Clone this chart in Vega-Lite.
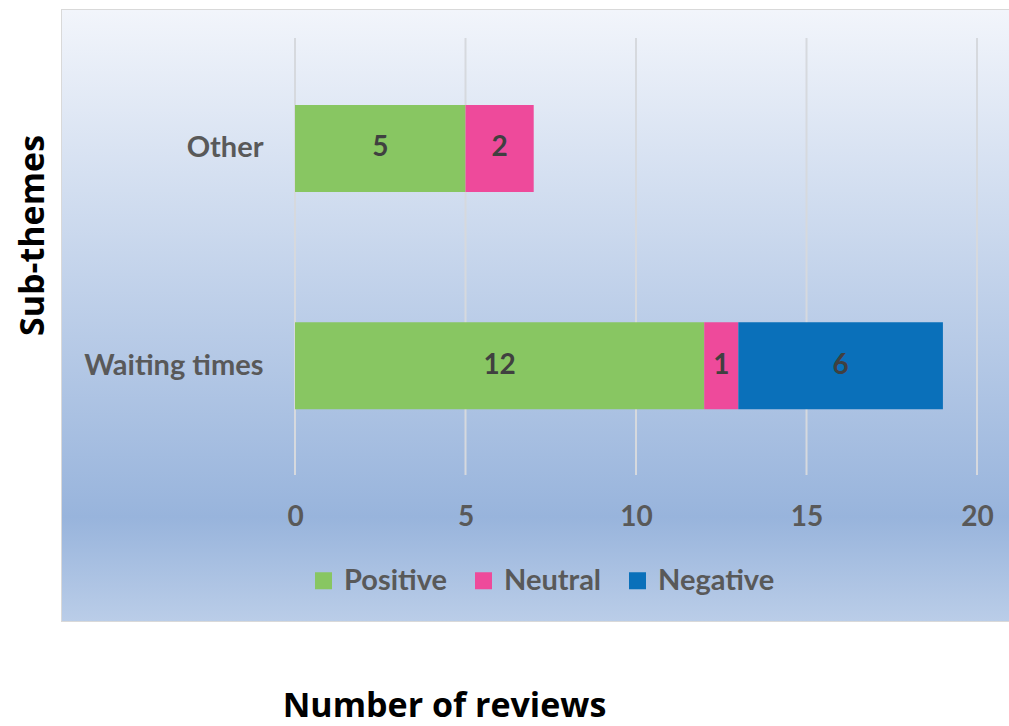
{
  "$schema": "https://vega.github.io/schema/vega-lite/v6.json",
  "width": 947,
  "height": 611,
  "autosize": "none",
  "padding": {"left": 62, "top": 10, "right": 0, "bottom": 105},
  "background": "white",
  "config": {
    "font": "Lato",
    "view": {"stroke": "#d9d9d9", "strokeWidth": 2}
  },
  "datasets": {
    "reviews": [
      {"sub": "Other", "sentiment": "Positive", "count": 5},
      {"sub": "Other", "sentiment": "Neutral", "count": 2},
      {"sub": "Waiting times", "sentiment": "Positive", "count": 12},
      {"sub": "Waiting times", "sentiment": "Neutral", "count": 1},
      {"sub": "Waiting times", "sentiment": "Negative", "count": 6}
    ],
    "gridticks": [{"v": 0}, {"v": 5}, {"v": 10}, {"v": 15}, {"v": 20}]
  },
  "layer": [
    {
      "data": {"values": [{}]},
      "mark": {
        "type": "rect",
        "fill": {
          "gradient": "linear",
          "x1": 0, "y1": 0, "x2": 0, "y2": 1,
          "stops": [
            {"offset": 0, "color": "#f2f5fb"},
            {"offset": 0.83, "color": "#98b4dc"},
            {"offset": 1, "color": "#bacde8"}
          ]
        }
      },
      "encoding": {}
    },
    {
      "data": {"name": "gridticks"},
      "mark": {"type": "rule", "color": "#d6d9de", "strokeWidth": 2, "yOffset": -110.5, "y2Offset": 109.2},
      "encoding": {
        "x": {
          "field": "v", "type": "quantitative",
          "scale": {"domain": [-6.833, 20.938], "nice": false, "zero": false},
          "axis": {
            "title": "Number of reviews", "values": [0, 5, 10, 15, 20], "grid": false, "ticks": false, "domain": false,
            "zindex": 2,
            "labelPadding": 0, "offset": -118, "labelFont": "Lato", "labelFontSize": 28, "labelFontWeight": "bold",
            "labelColor": "#595959", "labelFlush": false, "labelOverlap": false,
            "titleFont": "Open Sans", "titleFontSize": 34, "titleFontWeight": "bold", "titleColor": "#000000",
            "titleX": 382, "titleY": 213, "titleBaseline": "alphabetic", "titleAlign": "center"
          }
        },
        "y": {"datum": "Other", "type": "nominal"},
        "y2": {"datum": "Waiting times"}
      }
    },
    {
      "data": {"name": "reviews"},
      "transform": [
        {"stack": "count", "groupby": ["sub"], "sort": [{"field": "sentiment", "order": "descending"}], "as": ["x0", "x1"]},
        {"calculate": "(datum.x0 + datum.x1) / 2", "as": "xmid"}
      ],
      "layer": [
        {
          "mark": {"type": "bar"},
          "encoding": {
            "x": {"field": "x0", "type": "quantitative", "title": "Number of reviews"},
            "x2": {"field": "x1"},
            "color": {
              "field": "sentiment", "type": "nominal",
              "scale": {"domain": ["Positive", "Neutral", "Negative"], "range": ["#88c662", "#ee4a9b", "#0a70ba"]},
              "legend": {
                "orient": "none", "legendX": 247, "legendY": 556, "direction": "horizontal", "title": null,
                "symbolType": "square", "symbolSize": 289, "symbolStrokeWidth": 0,
                "labelFont": "Lato", "labelFontSize": 29, "labelFontWeight": "bold", "labelColor": "#595959",
                "columnPadding": 21, "labelOffset": 6, "padding": 0
              }
            }
          }
        },
        {
          "mark": {"type": "text", "font": "Lato", "fontSize": 28, "fontWeight": "bold", "color": "#404040"},
          "encoding": {
            "x": {"field": "xmid", "type": "quantitative", "title": "Number of reviews"},
            "text": {"field": "count", "type": "quantitative"}
          }
        }
      ],
      "encoding": {
        "y": {
          "field": "sub", "type": "nominal", "sort": ["Other", "Waiting times"],
          "scale": {"paddingInner": 0.6, "paddingOuter": 0.706, "align": 0.3097},
          "axis": {
            "title": "Sub-themes", "ticks": false, "domain": false, "grid": false, "labelPadding": 0, "offset": -201,
            "zindex": 2,
            "labelFont": "Lato", "labelFontSize": 29, "labelFontWeight": "bold", "labelColor": "#595959",
            "titleFont": "Open Sans", "titleFontSize": 34, "titleFontWeight": "bold", "titleColor": "#000000",
            "titleX": -220, "titleY": 225, "titleBaseline": "alphabetic", "titleAlign": "center", "titleAngle": 270
          }
        }
      }
    }
  ]
}
